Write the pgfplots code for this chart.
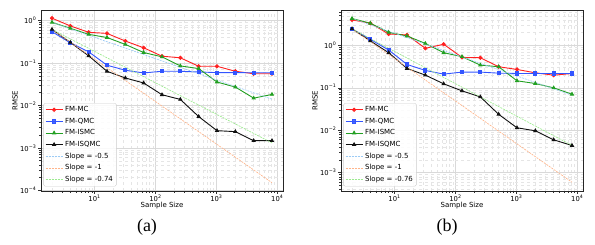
\documentclass[border=0pt]{standalone}
\usepackage{pgfplots}
\pgfplotsset{compat=1.18}
\usepackage{fontspec}
\setmainfont{DejaVu Sans}
\newfontfamily\capfont{Liberation Serif}
\definecolor{cmc}{HTML}{FF2020}
\definecolor{cqmc}{HTML}{3355FF}
\definecolor{cismc}{HTML}{22A022}
\definecolor{cisqmc}{HTML}{111111}
\definecolor{sa}{HTML}{9CCBF5}
\definecolor{sb}{HTML}{FFB48A}
\definecolor{sc}{HTML}{9BEA8E}
\tikzset{
  datmc/.style={color=cmc, line width=0.9pt, mark size=1.6pt, mark=*},
  datqmc/.style={color=cqmc, line width=0.9pt, mark size=1.6pt, mark=square*},
  datismc/.style={color=cismc, line width=0.9pt, mark size=1.7pt, mark=triangle*},
  datisqmc/.style={color=cisqmc, line width=0.9pt, mark size=1.7pt, mark=triangle*},
  slpa/.style={color=sa, line width=0.65pt, dash pattern=on 2pt off 1pt},
  slpb/.style={color=sb, line width=0.65pt, dash pattern=on 2pt off 1pt},
  slpc/.style={color=sc, line width=0.65pt, dash pattern=on 2pt off 1pt},
}
\pgfplotsset{
  every axis/.append style={
    xmode=log, ymode=log, scale only axis, width=242pt, height=181pt,
    xmin=1.32, xmax=12420,
    axis line style={black!85, line width=0.6pt},
    grid=both,
    major grid style={gray!30, line width=0.4pt},
    minor grid style={gray!20, dashed, line width=0.3pt},
    tick align=outside, xtick pos=bottom, ytick pos=left,
    major tick length=3pt, minor tick length=1.7pt,
    tick style={black!80, line width=0.5pt},
    xtick={10,100,1000,10000},
    xticklabels={10\textsuperscript{1},10\textsuperscript{2},10\textsuperscript{3},10\textsuperscript{4}},
    minor xtick={2,3,4,5,6,7,8,9,20,30,40,50,60,70,80,90,200,300,400,500,600,700,800,900,2000,3000,4000,5000,6000,7000,8000,9000},
    ticklabel style={font=\fontsize{6.8}{7.5}\selectfont},
    xticklabel style={inner sep=0.8pt},
    yticklabel style={inner sep=1.5pt},
    label style={font=\fontsize{7}{8}\selectfont},
    xlabel={Sample Size}, ylabel={RMSE},
    x label style={at={(axis description cs:0.5,-0.08)}, anchor=center},
    y label style={at={(axis description cs:-0.107,0.5)}, anchor=center},
    legend style={at={(rel axis cs:0.01,0.025)}, anchor=south west,
      font=\fontsize{7}{8}\selectfont, draw=gray!40, rounded corners=1.5pt,
      fill=white, fill opacity=0.85, text opacity=1, inner xsep=1.5pt, inner ysep=1.2pt,
      row sep=0.9pt},
    legend cell align=left,
  },
}
\begin{document}
\begin{tikzpicture}
\useasboundingbox (0pt,0pt) rectangle (595pt,245pt);
\begin{axis}[at={(41pt,54pt)}, anchor=south west,
  ymin=9.66e-5, ymax=1.78,
  ytick={1e-4,1e-3,1e-2,1e-1,1},
  yticklabels={10\textsuperscript{−4},10\textsuperscript{−3},10\textsuperscript{−2},10\textsuperscript{−1},10\textsuperscript{0}},
  minor ytick={2e-4,3e-4,4e-4,5e-4,6e-4,7e-4,8e-4,9e-4,2e-3,3e-3,4e-3,5e-3,6e-3,7e-3,8e-3,9e-3,2e-2,3e-2,4e-2,5e-2,6e-2,7e-2,8e-2,9e-2,0.2,0.3,0.4,0.5,0.6,0.7,0.8,0.9},
]
\addplot[datmc] coordinates {(2,1.14)(4,0.75)(8,0.53)(16,0.50)(32,0.33)(64,0.229)(128,0.145)(256,0.133)(512,0.084)(1024,0.084)(2048,0.064)(4096,0.056)(8192,0.056)};
\addlegendentry{FM-MC}
\addplot[datqmc] coordinates {(2,0.548)(4,0.30)(8,0.184)(16,0.089)(32,0.0676)(64,0.0585)(128,0.064)(256,0.064)(512,0.0617)(1024,0.0595)(2048,0.0595)(4096,0.059)(8192,0.059)};
\addlegendentry{FM-QMC}
\addplot[datismc] coordinates {(2,0.91)(4,0.66)(8,0.474)(16,0.40)(32,0.275)(64,0.177)(128,0.14)(256,0.0857)(512,0.074)(1024,0.0357)(2048,0.0272)(4096,0.0149)(8192,0.0182)};
\addlegendentry{FM-ISMC}
\addplot[datisqmc] coordinates {(2,0.62)(4,0.306)(8,0.148)(16,0.064)(32,0.0445)(64,0.0339)(128,0.0179)(256,0.0139)(512,0.00548)(1024,0.00255)(2048,0.00242)(4096,0.00148)(8192,0.00148)};
\addlegendentry{FM-ISQMC}
\addplot[slpa] coordinates {(2,0.9)(8192,0.01406)};
\addlegendentry{Slope = -0.5}
\addplot[slpb] coordinates {(2,0.62)(8192,0.0001514)};
\addlegendentry{Slope = -1}
\addplot[slpc] coordinates {(2,0.62)(8192,0.001316)};
\addlegendentry{Slope = -0.74}
\end{axis}
\begin{axis}[at={(341pt,54pt)}, anchor=south west,
  ymin=3.7e-4, ymax=6.8,
  ytick={1e-3,1e-2,1e-1,1},
  yticklabels={10\textsuperscript{−3},10\textsuperscript{−2},10\textsuperscript{−1},10\textsuperscript{0}},
  minor ytick={4e-4,5e-4,6e-4,7e-4,8e-4,9e-4,2e-3,3e-3,4e-3,5e-3,6e-3,7e-3,8e-3,9e-3,2e-2,3e-2,4e-2,5e-2,6e-2,7e-2,8e-2,9e-2,0.2,0.3,0.4,0.5,0.6,0.7,0.8,0.9,2,3,4,5,6},
]
\addplot[datmc] coordinates {(2,3.98)(4,3.32)(8,1.85)(16,1.76)(32,0.85)(64,1.06)(128,0.52)(256,0.51)(512,0.313)(1024,0.27)(2048,0.225)(4096,0.198)(8192,0.217)};
\addlegendentry{FM-MC}
\addplot[datqmc] coordinates {(2,2.44)(4,1.39)(8,0.776)(16,0.355)(32,0.256)(64,0.21)(128,0.234)(256,0.234)(512,0.221)(1024,0.217)(2048,0.217)(4096,0.217)(8192,0.217)};
\addlegendentry{FM-QMC}
\addplot[datismc] coordinates {(2,4.28)(4,3.32)(8,2.03)(16,1.66)(32,1.11)(64,0.67)(128,0.54)(256,0.342)(512,0.313)(1024,0.146)(2048,0.126)(4096,0.0995)(8192,0.0705)};
\addlegendentry{FM-ISMC}
\addplot[datisqmc] coordinates {(2,2.44)(4,1.27)(8,0.67)(16,0.285)(32,0.199)(64,0.124)(128,0.0845)(256,0.061)(512,0.0237)(1024,0.0114)(2048,0.0097)(4096,0.00594)(8192,0.00437)};
\addlegendentry{FM-ISQMC}
\addplot[slpa] coordinates {(2,4.28)(8192,0.0669)};
\addlegendentry{Slope = -0.5}
\addplot[slpb] coordinates {(2,2.44)(8192,0.000596)};
\addlegendentry{Slope = -1}
\addplot[slpc] coordinates {(2,2.44)(8192,0.00439)};
\addlegendentry{Slope = -0.76}
\end{axis}
\node[font=\capfont\fontsize{18}{20}\selectfont] at (147pt,18pt) {(a)};
\node[font=\capfont\fontsize{18}{20}\selectfont] at (447pt,18pt) {(b)};
\end{tikzpicture}
\end{document}
